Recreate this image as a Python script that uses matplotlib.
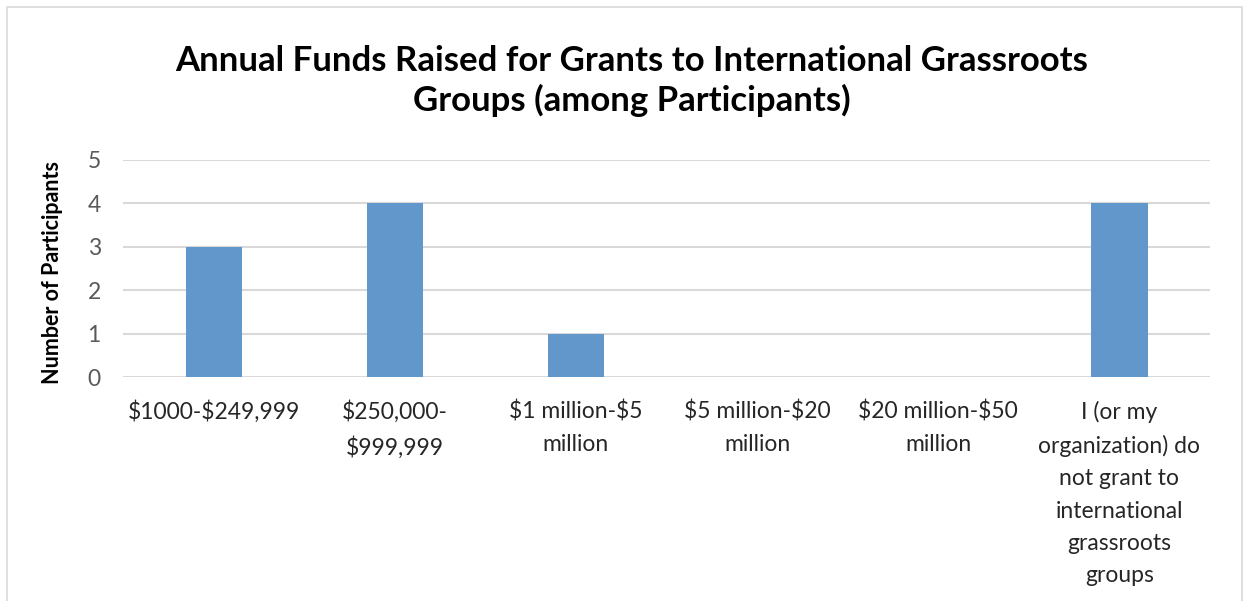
import matplotlib.pyplot as plt
from matplotlib.patches import Rectangle

categories = [
    "$1000-$249,999",
    "$250,000-\n$999,999",
    "$1 million-$5\nmillion",
    "$5 million-$20\nmillion",
    "$20 million-$50\nmillion",
    "I (or my\norganization) do\nnot grant to\ninternational\ngrassroots\ngroups",
]
participants = [3, 4, 1, 0, 0, 4]
yticks = [0, 1, 2, 3, 4, 5]

plt.rcParams['font.family'] = ['Lato', 'DejaVu Sans']
plt.rcParams['text.parse_math'] = False

fig = plt.figure(figsize=(12.44, 6.01), dpi=100)
ax = fig.add_axes([0.0989, 0.3727, 0.8738, 0.3611])

x = list(range(len(categories)))
ax.bar(x, participants, width=0.31, color='#6197CB', zorder=3)

ax.set_xlim(-0.5, len(categories) - 0.5)
ax.set_ylim(0, 5)
ax.set_yticks(yticks)
ax.set_yticklabels([str(t) for t in yticks], fontsize=16.5, color='#595959')
ax.set_xticks(x)
ax.set_xticklabels(categories, fontsize=16.5, color='#262626', linespacing=1.67,
                   va='top')
ax.tick_params(axis='both', length=0)
ax.tick_params(axis='y', pad=16)
ax.tick_params(axis='x', pad=17)
ax.grid(axis='y', color='#D9D9D9', linewidth=1.5, zorder=0)
for s in ax.spines.values():
    s.set_visible(False)

fig.text(0.508, 0.865, "Annual Funds Raised for Grants to International Grassroots\nGroups (among Participants)",
         ha='center', va='center', fontsize=25, fontweight='bold', linespacing=1.26)
fig.text(0.042, 0.547, "Number of Participants", rotation=90, ha='center', va='center',
         fontsize=15.5, fontweight='bold')

# outer chart border
fig.add_artist(Rectangle((7 / 1244, -0.1), 1235 / 1244, 1.1 - 7 / 601, transform=fig.transFigure,
                         fill=False, edgecolor='#D9D9D9', linewidth=1.2))

fig.savefig('out.png', dpi=100)
